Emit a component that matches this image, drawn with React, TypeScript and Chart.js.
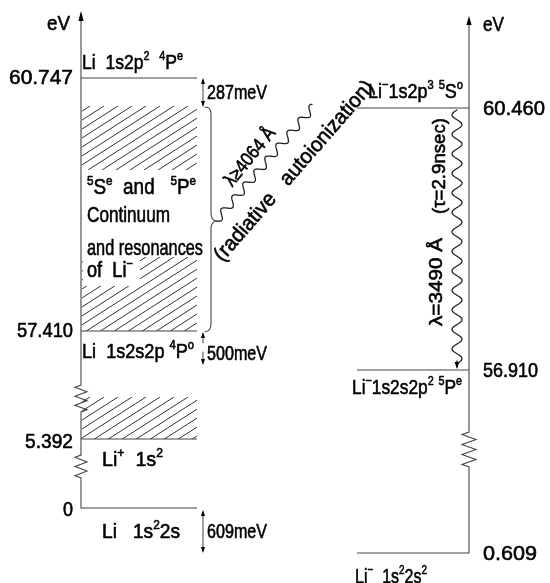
import React, { useEffect, useRef } from "react";
import { Chart, registerables } from "chart.js";
Chart.register(...registerables);

type Seg = [string, number]; // [text, 1 = superscript]

// ---- Data (diagram units: x 0..550, y 0..583 from top) ----
const leftEnergyLabels = ["60.747", "57.410", "5.392", "0"];
const leftEnergyRows = [78, 331, 439, 508];
const rightEnergyLabels = ["60.460", "56.910", "0.609"];
const rightEnergyRows = [108, 370, 553];
const leftSpan = [81, 197];
const rightSpan = [357, 469];

const leftTerms: Seg[][] = [
  [["Li  1s2p", 0], ["2", 1], ["  ", 0], ["4", 1], ["P", 0], ["e", 1]],
  [["Li  1s2s2p ", 0], ["4", 1], ["P", 0], ["o", 1]],
  [["Li", 0], ["+", 1], ["  1s", 0], ["2", 1]],
  [["Li   1s", 0], ["2", 1], ["2s", 0]],
];
const rightTerms: Seg[][] = [
  [["Li", 0], ["\u2212", 1], ["1s2p", 0], ["3", 1], [" ", 0], ["5", 1], ["S", 0], ["o", 1]],
  [["Li", 0], ["\u2212", 1], ["1s2s2p", 0], ["2", 1], [" ", 0], ["5", 1], ["P", 0], ["e", 1]],
  [["Li", 0], ["\u2212", 1], ["  1s", 0], ["2", 1], ["2s", 0], ["2", 1]],
];
const gapLabels = ["287meV", "500meV", "609meV"];
const continuumText: Seg[][] = [
  [["5", 1], ["S", 0], ["e", 1], ["  and   ", 0], ["5", 1], ["P", 0], ["e", 1]],
  [["Continuum", 0]],
  [["and resonances", 0]],
  [["of  Li", 0], ["\u2212", 1]],
];
const transitionLeft: Seg[] = [["\u03bb\u22654064 \u00c5", 0]];
const transitionLeftNote: Seg[] = [["(radiative   autoionization)", 0]];
const transitionRight: Seg[] = [["\u03bb=3490 \u00c5", 0]];
const transitionRightNote: Seg[] = [["(\u03c4=2.9nsec)", 0]];

const FONT = '"Liberation Sans", Arial, sans-serif';
const INK = "#000";
const LINE = "#444";

function richWidth(ctx: CanvasRenderingContext2D, segs: Seg[], size: number) {
  let w = 0;
  for (const [t, k] of segs) {
    ctx.font = `${k ? size * 0.62 : size}px ${FONT}`;
    w += ctx.measureText(t).width;
  }
  return w;
}

function drawRich(
  ctx: CanvasRenderingContext2D,
  segs: Seg[],
  x: number,
  cy: number,
  size: number,
  targetW: number,
  align: "left" | "right" | "center" = "left",
  rot = 0
) {
  const nat = richWidth(ctx, segs, size);
  const sx = targetW / nat;
  const w = nat * sx;
  ctx.save();
  ctx.translate(x, cy);
  ctx.rotate(rot);
  const ox = align === "left" ? 0 : align === "right" ? -w : -w / 2;
  ctx.translate(ox, 0);
  ctx.scale(sx, 1);
  ctx.fillStyle = INK;
  ctx.strokeStyle = INK;
  ctx.lineWidth = 0.6;
  ctx.lineJoin = "round";
  ctx.textBaseline = "alphabetic";
  const base = (size * 0.716) / 2;
  let cx = 0;
  for (const [t, k] of segs) {
    const s = k ? size * 0.62 : size;
    ctx.font = `${s}px ${FONT}`;
    const yy = k ? base - size * 0.4 : base;
    ctx.fillText(t, cx, yy);
    ctx.strokeText(t, cx, yy);
    cx += ctx.measureText(t).width;
  }
  ctx.restore();
}

const diagramPlugin = {
  id: "diagram",
  afterDatasetsDraw(chart: any) {
    const ctx: CanvasRenderingContext2D = chart.ctx;
    const xs = chart.scales.x;
    const ys = chart.scales.y;
    const X = (v: number) => xs.getPixelForValue(v);
    const Y = (v: number) => ys.getPixelForValue(v);

    ctx.save();
    ctx.strokeStyle = LINE;
    ctx.fillStyle = INK;
    ctx.lineWidth = 1.1;
    ctx.lineCap = "round";

    const zig = (x: number, y0: number, y1: number, amp: number, m: number) => {
      ctx.lineTo(X(x), Y(y0));
      const h = y1 - y0;
      for (let i = 0; i < m; i++) {
        ctx.lineTo(X(x + (i % 2 === 0 ? -amp : amp)), Y(y0 + ((i + 0.5) * h) / m));
      }
      ctx.lineTo(X(x), Y(y1));
    };
    const arrowHead = (x: number, y: number, dir: number, len = 8, half = 2.8) => {
      ctx.beginPath();
      ctx.moveTo(X(x), Y(y));
      ctx.lineTo(X(x - half), Y(y - dir * len));
      ctx.lineTo(X(x + half), Y(y - dir * len));
      ctx.closePath();
      ctx.fillStyle = INK;
      ctx.fill();
    };

    // left axis
    const lx = leftSpan[0];
    ctx.beginPath();
    ctx.moveTo(X(lx), Y(14));
    zig(lx, 385, 412, 6, 6);
    zig(lx, 455, 478, 6, 5);
    ctx.lineTo(X(lx), Y(leftEnergyRows[3]));
    ctx.stroke();
    arrowHead(lx, 11, -1, 10, 2.6);

    // right axis
    const rx = rightSpan[1];
    ctx.beginPath();
    ctx.moveTo(X(rx), Y(20));
    zig(rx, 432, 467, 7, 7);
    ctx.lineTo(X(rx), Y(rightEnergyRows[2]));
    ctx.stroke();
    arrowHead(rx, 16, -1, 9, 2.6);

    // hatching
    const hatch = (x0: number, y0: number, x1: number, y1: number) => {
      ctx.save();
      ctx.beginPath();
      ctx.rect(X(x0), Y(y0), X(x1) - X(x0), Y(y1) - Y(y0));
      ctx.clip();
      ctx.beginPath();
      const slope = 0.64;
      const h = y1 - y0;
      for (let s = x0 - h / slope - 20; s < x1 + 20; s += 14) {
        ctx.moveTo(X(s), Y(y1));
        ctx.lineTo(X(s + h / slope), Y(y0));
      }
      ctx.lineWidth = 1;
      ctx.strokeStyle = "#333";
      ctx.stroke();
      ctx.restore();
    };
    hatch(lx + 1, 106, leftSpan[1], 170);
    hatch(lx + 1, 257, leftSpan[1], leftEnergyRows[1]);
    hatch(lx + 1, 397, leftSpan[1], leftEnergyRows[2]);
    ctx.fillStyle = "#fff";
    ctx.fillRect(X(lx + 2), Y(256), X(140) - X(lx + 2), Y(286) - Y(256));

    // brace
    ctx.beginPath();
    ctx.moveTo(X(205), Y(107));
    ctx.quadraticCurveTo(X(211), Y(107), X(211), Y(114));
    ctx.lineTo(X(211), Y(213));
    ctx.quadraticCurveTo(X(211), Y(220), X(216), Y(221));
    ctx.moveTo(X(216), Y(221));
    ctx.quadraticCurveTo(X(211), Y(222), X(211), Y(229));
    ctx.lineTo(X(211), Y(324));
    ctx.quadraticCurveTo(X(211), Y(331), X(205), Y(332));
    ctx.stroke();

    // waves
    const wave = (x0: number, y0: number, x1: number, y1: number, amp: number, wl: number) => {
      const dx = x1 - x0, dy = y1 - y0;
      const len = Math.hypot(dx, dy);
      const nx = -dy / len, ny = dx / len;
      ctx.beginPath();
      const steps = Math.ceil(len * 2);
      for (let i = 0; i <= steps; i++) {
        const t = i / steps;
        const o = amp * Math.sin((2 * Math.PI * t * len) / wl);
        const px = x0 + dx * t + nx * o;
        const py = y0 + dy * t + ny * o;
        if (i === 0) ctx.moveTo(X(px), Y(py));
        else ctx.lineTo(X(px), Y(py));
      }
      ctx.stroke();
    };
    ctx.lineWidth = 1.3;
    ctx.strokeStyle = "#222";
    wave(216, 221, 314, 106, 4, 17);
    wave(457, rightEnergyRows[0] + 2, 457, rightEnergyRows[1] - 8, 5, 19.5);
    ctx.beginPath();
    ctx.moveTo(X(457), Y(rightEnergyRows[1] - 9));
    ctx.lineTo(X(457), Y(rightEnergyRows[1] - 3));
    ctx.stroke();
    arrowHead(457, rightEnergyRows[1] - 1, 1, 7, 2.4);

    // energy-gap arrows
    ctx.lineWidth = 1;
    ctx.strokeStyle = LINE;
    const gapArrow = (x: number, yTop: number, yBot: number, gapA?: number, gapB?: number) => {
      ctx.beginPath();
      if (gapA !== undefined && gapB !== undefined) {
        ctx.moveTo(X(x), Y(yTop + 2));
        ctx.lineTo(X(x), Y(gapA));
        ctx.moveTo(X(x), Y(gapB));
        ctx.lineTo(X(x), Y(yBot - 2));
      } else {
        ctx.moveTo(X(x), Y(yTop + 2));
        ctx.lineTo(X(x), Y(yBot - 2));
      }
      ctx.stroke();
      arrowHead(x, yTop, -1, 6, 2);
      arrowHead(x, yBot, 1, 6, 2);
    };
    gapArrow(203, leftEnergyRows[0], 107);
    gapArrow(203, leftEnergyRows[1] + 1, 365, 343, 352);
    gapArrow(203, leftEnergyRows[3] + 2, rightEnergyRows[2]);

    // texts
    drawRich(ctx, [["eV", 0]], X(47), Y(22), 21, 23, "left");
    drawRich(ctx, [["eV", 0]], X(483), Y(23), 21, 21, "left");

    const leftW = [64, 56, 48, 10];
    const leftDy = [2, 2, -1, 0];
    leftEnergyLabels.forEach((l, i) => {
      drawRich(ctx, [[l, 0]], X(73), Y(leftEnergyRows[i] - leftDy[i]), 21, leftW[i], "right");
    });
    const rightW = [62, 55, 54];
    rightEnergyLabels.forEach((l, i) => {
      drawRich(ctx, [[l, 0]], X(483), Y(rightEnergyRows[i] - 1), 21, rightW[i], "left");
    });

    const leftTermPos = [
      [82, 61, 101],
      [82, 350, 112],
      [102, 458, 61],
      [102, 530, 78],
    ];
    leftTerms.forEach((segs, i) => {
      const [x, y, w] = leftTermPos[i];
      drawRich(ctx, segs, X(x), Y(y), 21, w, "left");
    });
    const rightTermPos = [
      [368, 90, 95],
      [352, 386, 110],
      [355, 575, 72],
    ];
    rightTerms.forEach((segs, i) => {
      const [x, y, w] = rightTermPos[i];
      drawRich(ctx, segs, X(x), Y(y), 21, w, "left");
    });

    const gapPos = [
      [207, 91],
      [207, 352],
      [207, 530],
    ];
    gapLabels.forEach((g, i) => {
      drawRich(ctx, [[g, 0]], X(gapPos[i][0]), Y(gapPos[i][1]), 21, 60, "left");
    });

    const contPos = [
      [87, 186, 109],
      [87, 214, 83],
      [87, 247, 116],
      [87, 269, 46],
    ];
    continuumText.forEach((segs, i) => {
      const [x, y, w] = contPos[i];
      drawRich(ctx, segs, X(x), Y(y), 22, w, "left");
    });

    const deg = Math.PI / 180;
    drawRich(ctx, transitionLeft, X(249), Y(156), 19, 70, "center", -51 * deg);
    drawRich(ctx, transitionLeftNote, X(293), Y(170), 21, 232, "center", -49 * deg);
    drawRich(ctx, transitionRight, X(435), Y(282), 19, 88, "center", -90 * deg);
    drawRich(ctx, transitionRightNote, X(438), Y(166), 19, 96, "center", -90 * deg);

    ctx.restore();
  },
};

export default function App() {
  const ref = useRef<HTMLCanvasElement | null>(null);
  useEffect(() => {
    document.body.style.margin = "0";
    const levelSets: any[] = [];
    leftEnergyRows.forEach((r) => {
      levelSets.push({
        data: [
          { x: leftSpan[0], y: r },
          { x: leftSpan[1], y: r },
        ],
        borderColor: LINE,
        borderWidth: 1.1,
        pointRadius: 0,
        fill: false,
      });
    });
    rightEnergyRows.forEach((r) => {
      levelSets.push({
        data: [
          { x: rightSpan[0], y: r },
          { x: rightSpan[1], y: r },
        ],
        borderColor: LINE,
        borderWidth: 1.1,
        pointRadius: 0,
        fill: false,
      });
    });
    const chart = new Chart(ref.current as HTMLCanvasElement, {
      type: "line",
      data: { datasets: levelSets },
      options: {
        animation: false,
        responsive: false,
        maintainAspectRatio: false,
        layout: { padding: 0 },
        plugins: { legend: { display: false }, tooltip: { enabled: false } },
        scales: {
          x: { type: "linear", min: 0, max: 550, display: false },
          y: { type: "linear", min: 0, max: 583, reverse: true, display: false },
        },
        elements: { point: { radius: 0 }, line: { tension: 0 } },
      },
      plugins: [diagramPlugin],
    } as any);
    return () => chart.destroy();
  }, []);
  return (
    <div style={{ position: "absolute", left: 0, top: 0, width: 550, height: 583, background: "#fff" }}>
      <canvas ref={ref} width={550} height={583} style={{ display: "block" }} />
    </div>
  );
}
